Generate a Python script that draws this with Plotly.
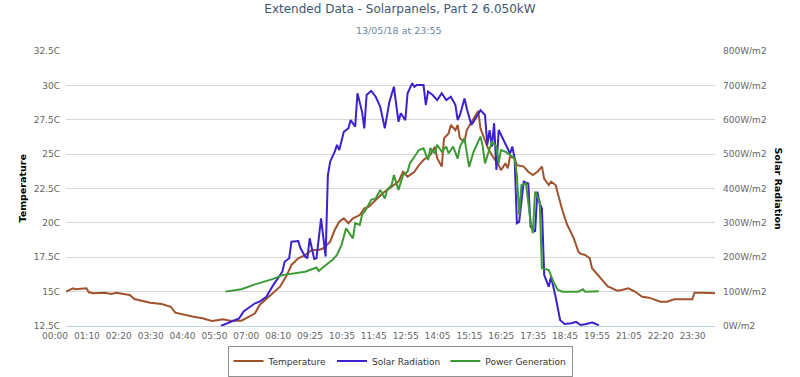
import plotly.graph_objects as go

# ---------------- data ----------------
def _hhmm(m):
    return f"{m // 60:02d}:{m % 60:02d}"

# 5-minute logger readings (two readings absent from the log: 08:55 and 21:40)
categories = [_hhmm(m) for m in range(0, 24 * 60, 5) if _hhmm(m) not in ("08:55", "21:40")]

tick_labels = ["00:00", "01:10", "02:20", "03:30", "04:40", "05:50", "07:00", "08:10",
               "09:25", "10:35", "11:45", "12:55", "14:05", "15:15", "16:25", "17:35",
               "18:45", "19:55", "21:05", "22:20", "23:30"]

temp_times = ["00:00", "00:15", "00:20", "00:40", "00:45", "00:50", "01:00", "01:25", "01:40", "01:50",
              "02:05", "02:20", "02:30", "02:45", "03:05", "03:30", "03:50", "04:00", "04:20", "04:40",
              "05:00", "05:20", "05:35", "05:45", "06:00", "06:25", "06:40", "06:55", "07:05", "07:25",
              "07:50", "08:05", "08:15", "08:30", "08:45", "09:05", "09:20", "09:30", "09:45", "09:55",
              "10:05", "10:15", "10:25", "10:35", "10:50", "11:00", "11:10", "11:25", "11:40", "11:55",
              "12:10", "12:15", "12:25", "12:35", "12:50", "13:00", "13:10", "13:25", "13:35", "13:40",
              "13:50", "13:55", "14:05", "14:10", "14:20", "14:25", "14:30", "14:40", "14:45", "15:00",
              "15:10", "15:15", "15:25", "15:30", "15:40", "15:55", "16:00", "16:10", "16:15", "16:20",
              "16:30", "16:35", "16:50", "17:00", "17:10", "17:20", "17:30", "17:35", "17:45", "17:50",
              "18:00", "18:10", "18:15", "18:25", "18:35", "18:40", "18:50", "18:55", "19:05", "19:15",
              "19:20", "19:35", "19:40", "19:45", "19:55", "20:00", "20:15", "20:25", "20:40", "20:55",
              "21:10", "21:25", "21:55", "22:10", "22:25", "23:05", "23:10", "23:30", "23:55"]
temp_values = [15.0, 15.24, 15.17, 15.2, 15.25, 14.95, 14.88, 14.92, 14.83, 14.92,
               14.83, 14.75, 14.46, 14.34, 14.19, 14.10, 13.90, 13.47, 13.30, 13.18,
               13.06, 12.86, 12.94, 12.99, 12.89, 12.89, 13.15, 13.42, 14.03, 14.63,
               15.36, 16.20, 16.94, 17.42, 17.66, 18.03, 18.03, 18.15, 18.63, 19.48,
               20.08, 20.33, 19.97, 20.33, 20.57, 21.06, 21.18, 21.66, 22.15, 22.51,
               22.88, 23.0, 23.72, 23.36, 23.72, 24.2, 24.57, 24.94, 25.54, 24.7,
               24.09, 26.15, 26.5, 27.12, 26.75, 27.12, 26.15, 25.9, 26.75, 27.6,
               28.14, 26.88, 25.9, 25.54, 24.94, 24.2, 23.84, 24.33, 23.97, 24.82,
               24.7, 24.2, 24.09, 23.72, 23.48, 23.72, 24.09, 23.2, 22.75, 23.0,
               22.75, 21.42, 20.9, 19.9, 19.24, 18.87, 17.9, 17.74, 17.66, 17.42,
               16.7, 16.1, 15.9, 15.72, 15.36, 15.31, 15.07, 15.12, 15.24, 14.99,
               14.63, 14.56, 14.27, 14.27, 14.44, 14.44, 14.92, 14.92, 14.88]

rad_times = ["05:40", "06:10", "06:20", "06:30", "06:40", "06:55", "07:05", "07:20", "07:35", "07:50",
             "07:55", "08:00", "08:10", "08:15", "08:30", "08:35", "08:45", "08:50", "09:00", "09:10",
             "09:15", "09:25", "09:35", "09:40", "09:45", "09:55", "10:00", "10:05", "10:15", "10:25",
             "10:30", "10:40", "10:45", "10:55", "11:00", "11:05", "11:15", "11:25", "11:35", "11:45",
             "11:55", "12:05", "12:15", "12:20", "12:30", "12:35", "12:45", "12:50", "12:55", "13:10",
             "13:15", "13:20", "13:30", "13:40", "13:50", "14:00", "14:10", "14:20", "14:25", "14:30",
             "14:40", "14:45", "14:55", "15:00", "15:15", "15:25", "15:30", "15:35", "15:40", "15:45",
             "15:50", "15:55", "16:05", "16:10", "16:20", "16:25", "16:30", "16:35", "16:40", "16:50",
             "17:00", "17:05", "17:15", "17:20", "17:25", "17:30", "17:35", "17:45", "17:50", "18:00",
             "18:10", "18:20", "18:35", "18:45", "18:55", "19:05", "19:20", "19:25", "19:35"]
rad_values = [0, 17, 22, 42, 51, 66, 71, 85, 119, 148,
              158, 187, 197, 245, 247, 226, 202, 197, 255, 195,
              197, 313, 202, 439, 478, 507, 527, 512, 565, 575,
              599, 580, 677, 623, 575, 672, 684, 667, 638, 575,
              652, 696, 594, 619, 599, 677, 706, 696, 701, 701,
              643, 682, 672, 657, 677, 657, 667, 643, 599, 614,
              662, 633, 585, 594, 628, 614, 527, 570, 522, 590,
              454, 570, 541, 527, 502, 522, 488, 299, 303, 420,
              415, 289, 274, 391, 357, 342, 148, 114, 143, 85,
              17, 6, 8, 12, 3, 5, 10, 8, 2]

power_times = ["05:50", "06:20", "06:25", "06:55", "07:35", "07:55", "08:25", "08:45", "09:15", "09:20",
               "09:35", "09:50", "10:00", "10:10", "10:20", "10:25", "10:35", "10:40", "10:50", "10:55",
               "11:05", "11:15", "11:25", "11:35", "11:45", "11:50", "12:00", "12:05", "12:15", "12:25",
               "12:35", "12:40", "12:50", "13:00", "13:10", "13:20", "13:25", "13:35", "13:40", "13:50",
               "14:00", "14:05", "14:15", "14:25", "14:30", "14:40", "14:50", "15:00", "15:15", "15:20",
               "15:25", "15:40", "15:50", "15:55", "16:00", "16:10", "16:20", "16:30", "16:35", "16:40",
               "16:45", "16:55", "17:05", "17:10", "17:15", "17:25", "17:30", "17:45", "17:55", "18:05",
               "18:15", "18:50", "19:00", "19:05", "19:35"]
power_values = [0.0, 0.05, 0.07, 0.21, 0.37, 0.48, 0.53, 0.58, 0.70, 0.60,
                0.77, 0.92, 1.07, 1.36, 1.84, 1.75, 1.55, 1.99, 1.94, 2.23,
                2.42, 2.67, 2.71, 2.96, 2.71, 2.96, 3.10, 3.39, 2.96, 3.39,
                3.49, 3.73, 3.93, 4.12, 4.17, 3.83, 4.17, 4.02, 4.27, 4.07,
                4.22, 4.02, 4.22, 3.87, 4.22, 4.46, 3.63, 4.07, 4.51, 4.22,
                3.73, 4.36, 4.22, 3.73, 4.12, 4.07, 3.97, 3.88, 3.39, 2.23,
                3.10, 3.15, 2.03, 1.70, 2.91, 2.62, 0.68, 0.63, 0.29, 0.05,
                0.0, 0.0, 0.07, 0.0, 0.01]

temp_ticks = [12.5, 15, 17.5, 20, 22.5, 25, 27.5, 30, 32.5]
temp_tick_text = ["12.5C", "15C", "17.5C", "20C", "22.5C", "25C", "27.5C", "30C", "32.5C"]
rad_ticks = [0, 100, 200, 300, 400, 500, 600, 700, 800]
rad_tick_text = ["0W/m2", "100W/m2", "200W/m2", "300W/m2", "400W/m2", "500W/m2",
                 "600W/m2", "700W/m2", "800W/m2"]

# ---------------- figure ----------------
pos = {t: i for i, t in enumerate(categories)}
FONT = "DejaVu Sans"

fig = go.Figure()
fig.add_trace(go.Scatter(x=[pos[t] for t in temp_times], y=temp_values, name="Temperature",
                         mode="lines", line=dict(color="#A0522D", width=2), yaxis="y"))
fig.add_trace(go.Scatter(x=[pos[t] for t in rad_times], y=rad_values, name="Solar Radiation",
                         mode="lines", line=dict(color="#3B22CC", width=2), yaxis="y2"))
fig.add_trace(go.Scatter(x=[pos[t] for t in power_times], y=power_values, name="Power Generation",
                         mode="lines", line=dict(color="#3C9B35", width=2), yaxis="y3"))

fig.update_layout(
    width=800, height=377,
    margin=dict(l=66, r=85, t=51, b=51, autoexpand=False),
    paper_bgcolor="white", plot_bgcolor="white",
    font=dict(family=FONT, color="#666666", size=9),
    showlegend=True,
    title=dict(text="Extended Data - Solarpanels, Part 2 6.050kW",
               font=dict(family=FONT, size=12, color="#3E576F"),
               x=0.5, xref="container", xanchor="center",
               y=1 - 9 / 377, yref="container", yanchor="middle"),
    xaxis=dict(range=[0, len(categories) - 1], showgrid=False, zeroline=False,
               showline=True, linecolor="#C0D0E0", linewidth=1,
               tickmode="array", tickvals=[pos[t] for t in tick_labels], ticktext=tick_labels,
               ticks="", ticklabelshift=-11, ticklabelstandoff=1,
               tickfont=dict(size=9, color="#666666")),
    yaxis=dict(range=[12.5, 32.5], tickmode="array", tickvals=temp_ticks, ticktext=temp_tick_text,
               showgrid=True, gridcolor="#D8D8D8", gridwidth=1, zeroline=False, showline=False,
               ticks="", ticklabelstandoff=5, tickfont=dict(size=9, color="#666666")),
    yaxis2=dict(range=[0, 800], overlaying="y", side="right", tickmode="array",
                tickvals=rad_ticks, ticktext=rad_tick_text, showgrid=False, zeroline=False,
                showline=False, ticks="", ticklabelstandoff=7,
                tickfont=dict(size=9, color="#666666")),
    yaxis3=dict(range=[-1, 7], overlaying="y", visible=False, showgrid=False, zeroline=False),
    legend=dict(orientation="h", xref="container", x=0.5, xanchor="center",
                yref="container", y=1 - 361 / 377, yanchor="middle",
                bordercolor="#909090", borderwidth=1, bgcolor="white",
                font=dict(family=FONT, size=9, color="#333333"),
                itemwidth=30, tracegroupgap=0),
    annotations=[
        dict(text="13/05/18 at 23:55", xref="paper", yref="paper",
             x=(399 - 66) / 649, y=(326 - 31) / 275, xanchor="center", yanchor="middle",
             showarrow=False, font=dict(family=FONT, size=9.5, color="#6D869F")),
        dict(text="<b>Temperature</b>", xref="paper", yref="paper",
             x=(22 - 66) / 649, y=0.5, textangle=-90, showarrow=False,
             xanchor="center", yanchor="middle",
             font=dict(family=FONT, size=9.5, color="#000000")),
        dict(text="<b>Solar Radiation</b>", xref="paper", yref="paper",
             x=(778 - 66) / 649, y=0.5, textangle=90, showarrow=False,
             xanchor="center", yanchor="middle",
             font=dict(family=FONT, size=9.5, color="#000000")),
    ],
)

fig.write_html("out.html", config={"displayModeBar": False},
               post_script="document.body.style.margin='0';")
